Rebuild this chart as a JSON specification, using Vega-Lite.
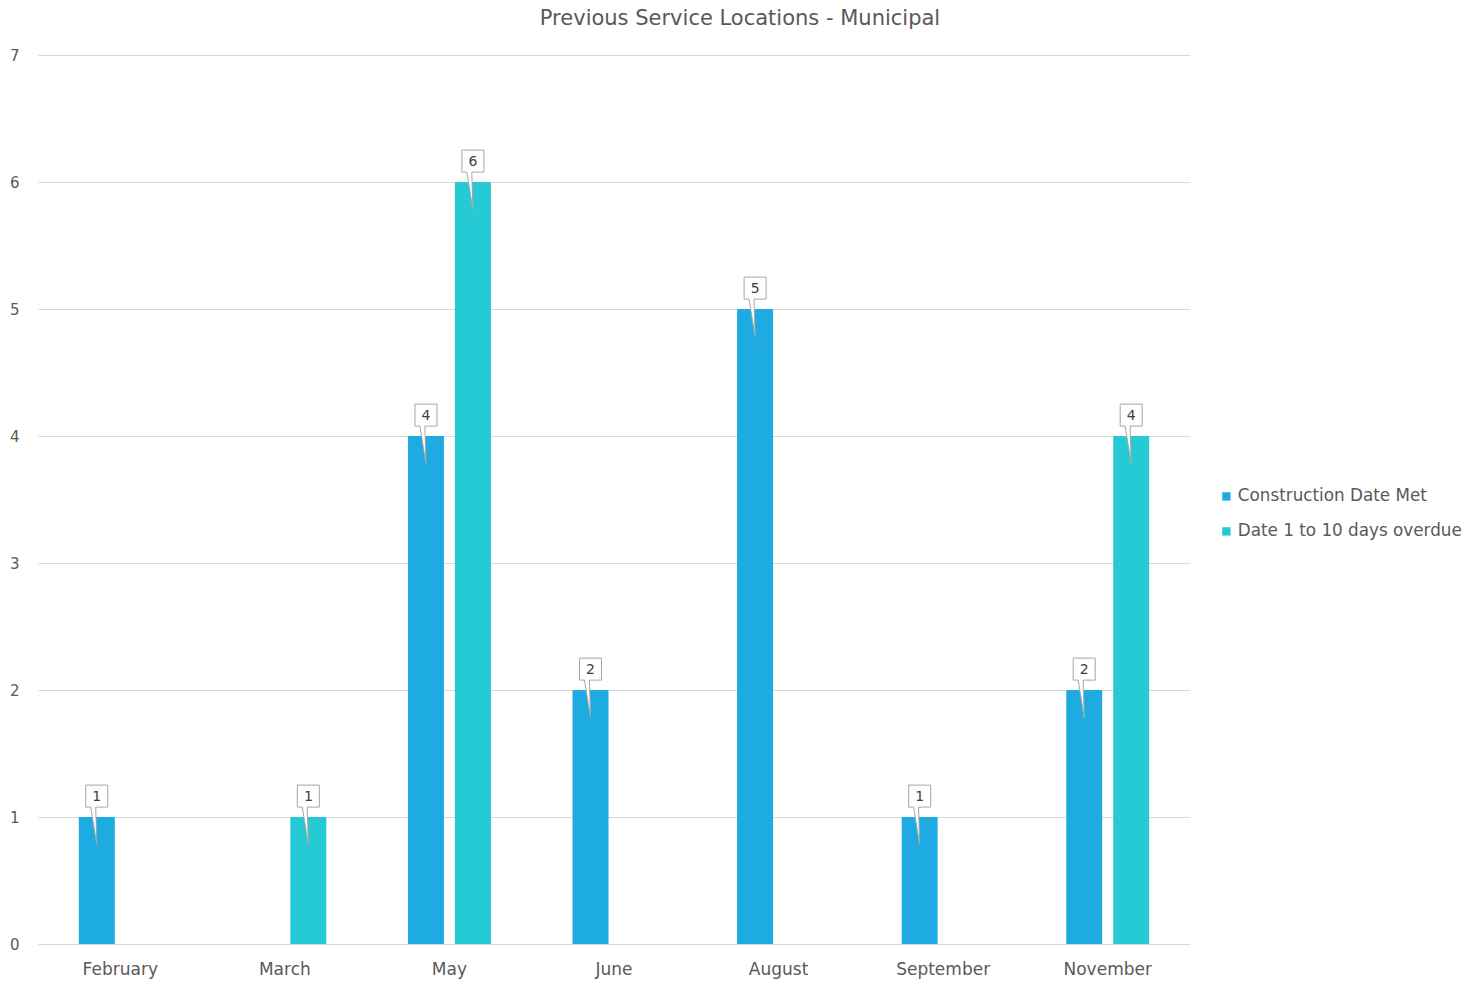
{
  "$schema": "https://vega.github.io/schema/vega-lite/v6.json",
  "autosize": {"type": "none"},
  "width": 1152,
  "height": 889,
  "padding": {"left": 38, "top": 55, "right": 283, "bottom": 43},
  "background": "white",
  "title": {
    "text": "Previous Service Locations - Municipal",
    "anchor": "middle",
    "frame": "group",
    "dx": 126,
    "offset": 2,
    "baseline": "alphabetic",
    "fontSize": 21,
    "fontWeight": "normal",
    "color": "#595959"
  },
  "data": {
    "values": [
      {"month": "February", "series": "Construction Date Met", "count": 1},
      {"month": "March", "series": "Date 1 to 10 days overdue", "count": 1},
      {"month": "May", "series": "Construction Date Met", "count": 4},
      {"month": "May", "series": "Date 1 to 10 days overdue", "count": 6},
      {"month": "June", "series": "Construction Date Met", "count": 2},
      {"month": "August", "series": "Construction Date Met", "count": 5},
      {"month": "September", "series": "Construction Date Met", "count": 1},
      {"month": "November", "series": "Construction Date Met", "count": 2},
      {"month": "November", "series": "Date 1 to 10 days overdue", "count": 4}
    ]
  },
  "encoding": {
    "x": {
      "field": "month",
      "type": "nominal",
      "sort": ["February", "March", "May", "June", "August", "September", "November"],
      "scale": {"paddingInner": 0.496, "paddingOuter": 0.248},
      "axis": {
        "title": null,
        "labelAngle": 0,
        "ticks": false,
        "domain": false,
        "labelPadding": 17,
        "labelFontSize": 17,
        "labelColor": "#595959"
      }
    },
    "xOffset": {
      "field": "series",
      "type": "nominal",
      "scale": {"domain": ["Construction Date Met", "Date 1 to 10 days overdue"], "paddingInner": 0.234, "paddingOuter": 0}
    },
    "y": {
      "field": "count",
      "type": "quantitative",
      "scale": {"domain": [0, 7], "nice": false},
      "axis": {
        "title": null,
        "values": [0, 1, 2, 3, 4, 5, 6, 7],
        "labelOverlap": false,
        "ticks": false,
        "domain": false,
        "labelPadding": 19,
        "labelFontSize": 15,
        "labelColor": "#595959",
        "gridColor": "#d9d9d9",
        "gridWidth": 1.2
      }
    }
  },
  "layer": [
    {
      "mark": {"type": "bar"},
      "encoding": {
        "color": {
          "field": "series",
          "type": "nominal",
          "scale": {"domain": ["Construction Date Met", "Date 1 to 10 days overdue"], "range": ["#1DABE2", "#26CAD4"]},
          "legend": {
            "title": null,
            "orient": "none",
            "legendX": 1180,
            "legendY": 433,
            "symbolType": "square",
            "symbolSize": 70,
            "labelFontSize": 16.8,
            "labelColor": "#595959",
            "labelLimit": 0,
            "rowPadding": 17,
            "labelOffset": 3
          }
        }
      }
    },
    {
      "mark": {
        "type": "point",
        "shape": "M-1,-2.9 L1,-2.9 L1,-0.9 L-0.1,-0.9 L0,2.5 L-0.55,-0.9 L-1,-0.9 Z",
        "size": 484,
        "filled": true,
        "fill": "white",
        "stroke": "#a6a6a6",
        "strokeWidth": 1,
        "opacity": 1
      },
      "encoding": {}
    },
    {
      "mark": {
        "type": "text",
        "dy": -20,
        "baseline": "middle",
        "fontSize": 14,
        "color": "#404040"
      },
      "encoding": {"text": {"field": "count", "type": "quantitative"}}
    }
  ],
  "config": {
    "font": "DejaVu Sans",
    "view": {"stroke": null}
  }
}
